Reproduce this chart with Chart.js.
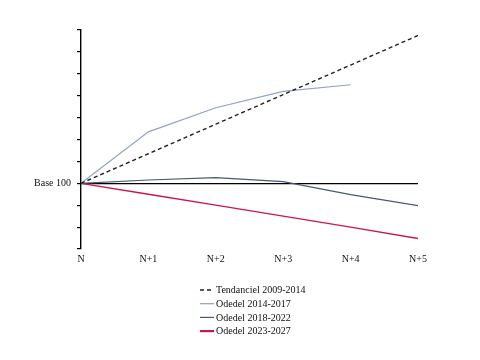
<!DOCTYPE html>
<html>
<head>
<meta charset="utf-8">
<script src="https://cdn.jsdelivr.net/npm/chart.js@4"></script>
<style>
  html, body { margin: 0; padding: 0; background: #fff; }
  #wrap { width: 480px; height: 360px; }
</style>
</head>
<body>
<div id="wrap"><canvas id="c" width="480" height="360"></canvas></div>
<script>
// Données (indice, base 100 en N)
const xLabels = ['N', 'N+1', 'N+2', 'N+3', 'N+4', 'N+5'];
const tendanciel = [100, 101.35, 102.7, 104.05, 105.4, 106.75];
const odedel1417 = [100, 102.35, 103.45, 104.2, 104.5, null];
const odedel1822 = [100, 100.15, 100.26, 100.08, 99.48, 98.98];
const odedel2327 = [100, 99.5, 99.0, 98.5, 98.0, 97.48];

const serif = '"Liberation Serif", "DejaVu Serif", serif';

function pts(arr) {
    return arr.map((v, i) => ({ x: i, y: v }));
}

// Légende en colonne sous le graphique
const columnLegend = {
    id: 'columnLegend',
    afterDraw(chart) {
        const ctx = chart.ctx;
        ctx.save();
        ctx.font = '10px ' + serif;
        ctx.textBaseline = 'middle';
        chart.data.datasets.forEach((ds, i) => {
            const y = 290 + i * 13.7;
            ctx.beginPath();
            ctx.strokeStyle = ds.borderColor;
            ctx.lineWidth = ds.legendWidth || ds.borderWidth;
            ctx.setLineDash(ds.borderDash || []);
            ctx.moveTo(200, y);
            ctx.lineTo(214, y);
            ctx.stroke();
            ctx.setLineDash([]);
            ctx.fillStyle = '#111';
            ctx.fillText(ds.label, 216, y + 0.5);
        });
        ctx.restore();
    }
};

new Chart(document.getElementById('c'), {
    type: 'line',
    data: {
        datasets: [
            { label: 'Tendanciel 2009-2014', data: pts(tendanciel), borderColor: '#222', borderWidth: 1.4, borderDash: [4, 3] },
            { label: 'Odedel 2014-2017', data: pts(odedel1417), borderColor: '#8ea3c9', borderWidth: 1.2 },
            { label: 'Odedel 2018-2022', data: pts(odedel1822), borderColor: '#4a596d', borderWidth: 1.2 },
            { label: 'Odedel 2023-2027', data: pts(odedel2327), borderColor: '#c9164b', borderWidth: 1.3, legendWidth: 2.2 }
        ]
    },
    options: {
        responsive: false,
        animation: false,
        layout: { padding: { top: 30, right: 62, left: 0, bottom: 0 } },
        elements: { point: { radius: 0 }, line: { tension: 0 } },
        plugins: { legend: { display: false }, tooltip: { enabled: false } },
        scales: {
            x: {
                type: 'linear',
                min: 0, max: 5,
                ticks: {
                    stepSize: 1,
                    padding: -4,
                    color: '#111',
                    font: { family: serif, size: 10 },
                    callback: v => xLabels[v]
                },
                grid: { display: false },
                border: { display: false },
                afterFit: s => { s.height = 111; }
            },
            y: {
                min: 97, max: 107,
                ticks: {
                    stepSize: 1,
                    padding: 6,
                    color: '#111',
                    font: { family: serif, size: 10 },
                    callback: v => v === 100 ? 'Base 100' : ''
                },
                grid: {
                    color: c => c.tick && c.tick.value === 100 ? '#000' : 'rgba(0,0,0,0)',
                    lineWidth: 1.2,
                    tickColor: '#000',
                    tickLength: 4
                },
                border: { color: '#000', width: 1.4 },
                afterFit: s => { s.width = 81; }
            }
        }
    },
    plugins: [columnLegend]
});
</script>
</body>
</html>
